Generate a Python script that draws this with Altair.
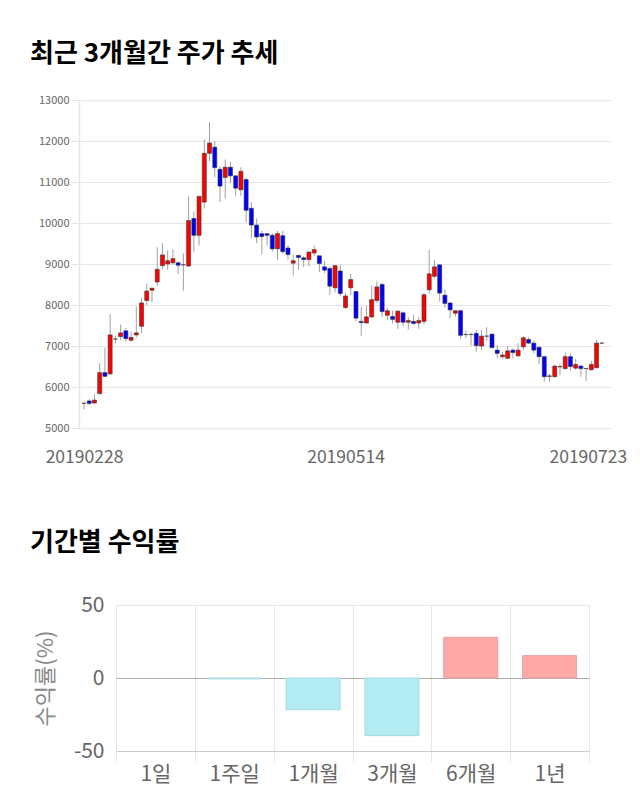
import altair as alt
import pandas as pd

# ---------------- candle data (100 trading days, 2019-02-28 .. 2019-07-23) -------------
opens = [5600, 5660, 5610, 5840, 6350, 6320, 7170, 7230, 7370, 7140,
         7270, 7480, 8110, 8360, 8560, 8960, 9000, 9030, 9030, 8980,
         8950, 10110, 9700, 10510, 11700, 11850, 11310, 11110, 11360, 11150,
         10810, 11060, 10360, 9950, 9740, 9740, 9700, 9370, 9690, 9390,
         9020, 9210, 9150, 9110, 9270, 9200, 8930, 8890, 8420, 8830,
         7940, 8420, 8330, 7600, 7560, 7710, 8110, 8500, 7750, 7720,
         7580, 7810, 7580, 7600, 7560, 7600, 8370, 8700, 8980, 8240,
         8050, 7800, 7860, 7280, 7280, 7310, 7000, 7240, 7290, 6900,
         6740, 6700, 6900, 6760, 6980, 7160, 7070, 6970, 6740, 6260,
         6250, 6490, 6450, 6740, 6460, 6510, 6450, 6420, 6470, 7070]
highs = [5650, 5700, 5830, 6580, 6960, 7780, 7250, 7520, 7440, 7360,
         7960, 8170, 8520, 8410, 9410, 9510, 9330, 9360, 9060, 9260,
         10660, 10280, 10650, 12040, 12460, 12000, 11380, 11550, 11500, 11160,
         11360, 11110, 10510, 10110, 9810, 9750, 9750, 9810, 9810, 9470,
         9230, 9210, 9190, 9310, 9450, 9200, 9070, 8940, 8980, 8980,
         8300, 8760, 8330, 7950, 7980, 8470, 8580, 8540, 7930, 7860,
         7870, 7850, 7710, 7760, 7710, 8290, 9350, 9090, 8980, 8370,
         8060, 7880, 7880, 7370, 7330, 7390, 7390, 7460, 7290, 7020,
         6860, 7000, 6940, 7070, 7240, 7210, 7130, 6980, 6760, 6320,
         6540, 6560, 6840, 6820, 6680, 6540, 6460, 6640, 7150, 7090]
lows = [5450, 5550, 5590, 5810, 6240, 6300, 7060, 7150, 7110, 7110,
        7210, 7320, 8000, 8070, 8470, 8870, 8860, 8980, 8760, 8350,
        8940, 9300, 9450, 10350, 11500, 11110, 10510, 10600, 10970, 10660,
        10660, 10010, 9630, 9510, 9230, 9450, 9300, 9100, 9250, 9110,
        8720, 8860, 8920, 8940, 9200, 8800, 8780, 8250, 8310, 8210,
        7900, 8240, 7600, 7250, 7550, 7680, 8050, 7710, 7630, 7550,
        7420, 7480, 7400, 7520, 7420, 7530, 8280, 8650, 8080, 7930,
        7680, 7720, 7170, 7190, 7010, 6860, 6900, 7130, 6940, 6700,
        6680, 6680, 6700, 6740, 6900, 7050, 6820, 6560, 6130, 6130,
        6240, 6290, 6420, 6400, 6420, 6250, 6150, 6400, 6460, 7060]
closes = [5600, 5600, 5680, 6350, 6260, 7270, 7170, 7320, 7180, 7210,
          7320, 8050, 8340, 8410, 8870, 9220, 9080, 9130, 8970, 8980,
          10060, 9700, 10650, 11700, 11950, 11350, 10900, 11360, 11150, 10850,
          11260, 10310, 9950, 9660, 9670, 9700, 9370, 9740, 9300, 9230,
          9080, 9160, 9110, 9290, 9350, 9010, 8850, 8460, 8960, 8280,
          8220, 8620, 7680, 7570, 7710, 8130, 8440, 7840, 7860, 7650,
          7850, 7580, 7620, 7550, 7620, 8250, 8760, 8930, 8290, 8040,
          7880, 7860, 7260, 7280, 7280, 7010, 7240, 7240, 6960, 6820,
          6780, 6880, 6840, 6900, 7200, 7070, 6900, 6740, 6250, 6270,
          6510, 6500, 6740, 6500, 6550, 6450, 6450, 6550, 7070, 7070]

tick_idx = [0, 50, 99]
tick_dates = ["20190228", "20190514", "20190723"]
price_ticks = [5000, 6000, 7000, 8000, 9000, 10000, 11000, 12000, 13000]

# ---------------- period returns -------------
periods = ["1일", "1주일", "1개월", "3개월", "6개월", "1년"]
returns = [0.0, -0.6, -21.7, -39.5, 27.9, 15.3]

FONT = "Noto Sans CJK KR"

candles = pd.DataFrame({
    "idx": list(range(len(opens))),
    "open": opens, "high": highs, "low": lows, "close": closes,
})
candles["dir"] = ["up" if c > o else ("down" if c < o else "flat")
                  for o, c in zip(opens, closes)]

label_expr = " : ".join(
    f"datum.value == {i} ? '{d}'" for i, d in zip(tick_idx, tick_dates)
) + " : ''"

base = alt.Chart(candles).encode(
    x=alt.X(
        "idx:Q",
        scale=alt.Scale(domain=[0, 99.8], nice=False, zero=False),
        axis=alt.Axis(
            values=tick_idx, labelExpr=label_expr, title=None, grid=False,
            ticks=False, domain=False, labelFontSize=17.5, labelColor="#666666",
            labelPadding=20, labelFlush=False,
            labelOffset={"condition": {"test": "datum.value == 99", "value": -14}, "value": 0},
        ),
    )
)

y_scale = alt.Scale(domain=[5000, 13000], nice=False, zero=False)
y_axis = alt.Axis(
    values=price_ticks, format="d", title=None, labelFontSize=11,
    labelColor="#666666", tickColor="#e3e3e3", tickSize=8, labelPadding=2,
    domainColor="#e6e6e6", domainWidth=1.5, gridColor="#e6e6e6",
)

wicks = base.mark_rule(color="#a0a0a0", strokeWidth=1).encode(
    y=alt.Y("low:Q", scale=y_scale, axis=y_axis),
    y2="high:Q",
)
bodies = base.mark_bar(size=4, stroke="#333333", strokeWidth=0.6).encode(
    y=alt.Y("open:Q", scale=y_scale, axis=y_axis),
    y2="close:Q",
    color=alt.Color(
        "dir:N",
        scale=alt.Scale(domain=["up", "down", "flat"], range=["#ff0000", "#0000ff", "#333333"]),
        legend=None,
    ),
)
top = alt.layer(wicks, bodies).properties(width=532, height=328)

# ---------------- returns bar chart -------------
ret_df = pd.DataFrame({"period": periods, "ret": returns})
ret_df["sign"] = ["pos" if r > 0 else ("neg" if r < 0 else "zero") for r in returns]

bottom = alt.Chart(ret_df).mark_bar(strokeWidth=1, size=54).encode(
    x=alt.X(
        "period:N", sort=periods,
        scale=alt.Scale(paddingInner=0, paddingOuter=0),
        axis=alt.Axis(
            title=None, labelFontSize=21, labelColor="#666666", labelAngle=0,
            tickBand="extent", ticks=True, tickSize=11, tickColor="#e6e6e6",
            grid=True, gridColor="#e6e6e6", domainColor="#cccccc", labelPadding=1,
        ),
    ),
    y=alt.Y(
        "ret:Q",
        scale=alt.Scale(domain=[-50, 50], nice=False),
        axis=alt.Axis(
            values=[-50, 0, 50], labelExpr="'' + datum.value",
            title="수익률(%)", titleFontSize=22,
            titleColor="#888888", titleFontWeight="normal", titlePadding=16,
            labelFontSize=21, labelColor="#666666", domain=False, ticks=False,
            labelPadding=12,
            gridColor={"condition": {"test": "datum.value === 0", "value": "#aaaaaa"}, "value": "#e6e6e6"},
        ),
    ),
    color=alt.Color(
        "sign:N",
        scale=alt.Scale(domain=["pos", "neg", "zero"], range=["#ffa8a8", "#b3ebf3", "#ffffff"]),
        legend=None,
    ),
    stroke=alt.Stroke(
        "sign:N",
        scale=alt.Scale(domain=["pos", "neg", "zero"], range=["#e8a0a0", "#a6d8df", "transparent"]),
        legend=None,
    ),
).properties(width=473, height=146)


def spacer():
    return alt.Chart(pd.DataFrame({"s": [0]})).mark_text(text="").encode(
        x=alt.value(0), y=alt.value(0)
    ).properties(width=1, height=10)


row1 = alt.hconcat(spacer(), top, spacing=37).properties(
    title=alt.TitleParams(
        "최근 3개월간 주가 추세", anchor="start", fontSize=26, fontWeight="bold",
        color="#000000", dx=30, offset=27, font=FONT,
    )
)
row2 = alt.hconcat(spacer(), bottom, spacing=33).properties(
    title=alt.TitleParams(
        "기간별 수익률", anchor="start", fontSize=26, fontWeight="bold",
        color="#000000", dx=30, offset=38, font=FONT,
    )
)

chart = alt.vconcat(row1, row2, spacing=64).resolve_scale(
    color="independent", stroke="independent"
).properties(
    padding={"left": 0, "top": 41, "right": 0, "bottom": 14},
    background="#ffffff",
).configure(font=FONT).configure_view(strokeWidth=0)

chart.save("out.html", embed_options={"renderer": "svg", "actions": False})
